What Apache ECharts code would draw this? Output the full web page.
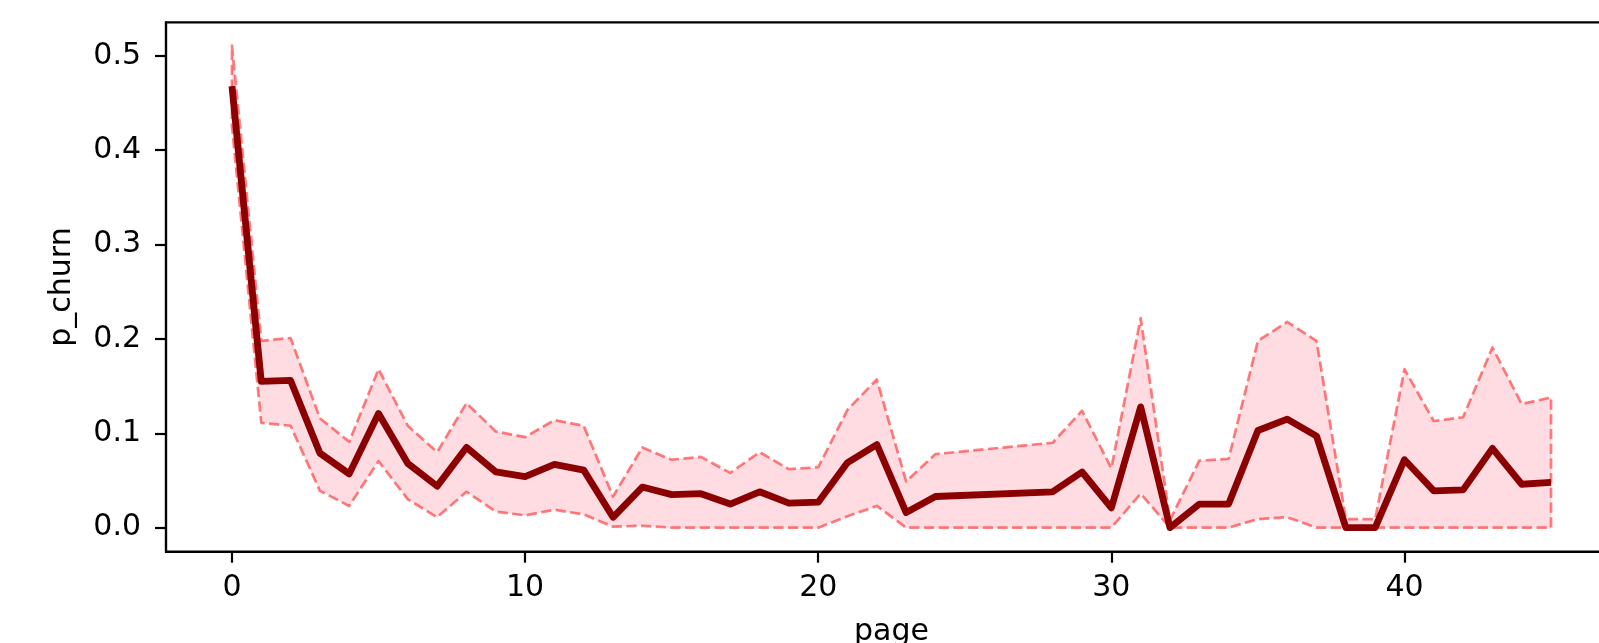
<!DOCTYPE html>
<html>
<head>
<meta charset="utf-8">
<script src="https://cdn.jsdelivr.net/npm/echarts@6/dist/echarts.min.js"></script>
<style>html,body{margin:0;padding:0;background:#fff;}#chart{width:1599px;height:643px;}</style>
</head>
<body>
<div id="chart"></div>
<script>
// pages observed (25-27 absent)
const pages = [0,1,2,3,4,5,6,7,8,9,10,11,12,13,14,15,16,17,18,19,20,21,22,23,24,28,29,30,31,32,33,34,35,36,37,38,39,40,41,42,43,44,45];
const pChurn = [0.468,0.155,0.156,0.079,0.057,0.121,0.068,0.044,0.085,0.059,0.054,0.067,0.061,0.011,0.043,0.035,0.036,0.025,0.038,0.026,0.027,0.069,0.088,0.016,0.033,0.038,0.059,0.021,0.128,0.0,0.025,0.025,0.103,0.115,0.097,0.0,0.0,0.072,0.039,0.040,0.084,0.046,0.048];
const upper = [0.511,0.198,0.201,0.116,0.091,0.168,0.108,0.080,0.132,0.102,0.096,0.114,0.108,0.033,0.085,0.072,0.075,0.058,0.080,0.062,0.064,0.125,0.157,0.049,0.078,0.090,0.124,0.063,0.222,0.008,0.071,0.073,0.198,0.218,0.198,0.009,0.009,0.168,0.113,0.117,0.191,0.131,0.138];
const lower = [0.426,0.111,0.108,0.039,0.023,0.0705,0.030,0.011,0.038,0.017,0.013,0.019,0.014,0.001,0.002,0.0,0.0,0.0,0.0,0.0,0.0,0.012,0.023,0.0,0.0,0.0,0.0,0.0,0.036,0.0,0.0,0.0,0.009,0.011,0.0,0.0,0.0,0.0,0.0,0.0,0.0,0.0,0.0];
const xTicks = [0,10,20,30,40];
const yTicks = [0.0,0.1,0.2,0.3,0.4,0.5];

const FONT = 'DejaVu Sans';
const FS = 30;
const chart = echarts.init(document.getElementById('chart'), null, {renderer:'canvas'});
const axisCommon = {
  axisLine:{show:true,onZero:false,lineStyle:{color:'#000',width:2.2}},
  axisTick:{show:true,length:11,lineStyle:{color:'#000',width:2.2}},
  splitLine:{show:false},
  nameTextStyle:{fontFamily:FONT,fontSize:FS,color:'#000'}
};
chart.setOption({
  animation:false,
  backgroundColor:'#fff',
  grid:{left:166,top:22.4,width:1451,height:529.3,show:true,borderColor:'#000',borderWidth:2.2,
    backgroundColor:'transparent',containLabel:false,outerBoundsMode:'none'},
  xAxis:Object.assign({}, axisCommon, {
    type:'value', min:-2.25, max:47.25,
    name:'page', nameLocation:'middle', nameGap:66,
    axisTick:Object.assign({}, axisCommon.axisTick, {customValues:xTicks}),
    axisLabel:{customValues:xTicks, fontFamily:FONT, fontSize:FS, color:'#000', margin:22}
  }),
  yAxis:Object.assign({}, axisCommon, {
    type:'value', min:-0.0255, max:0.5355,
    name:'p_churn', nameLocation:'middle', nameGap:89,
    axisTick:Object.assign({}, axisCommon.axisTick, {customValues:yTicks}),
    axisLabel:{customValues:yTicks, fontFamily:FONT, fontSize:FS, color:'#000', margin:25,
      formatter:function(v){return v.toFixed(1);}}
  }),
  series:[
    {
      type:'custom',
      data: pages.map((p,i)=>[p, upper[i], lower[i]]),
      encode:{x:0,y:[1,2]},
      z:2,
      renderItem:function(params, api){
        if (params.dataIndex !== 0) return null;
        const pts = [];
        for (let i=0;i<pages.length;i++) pts.push(api.coord([pages[i], upper[i]]));
        for (let i=pages.length-1;i>=0;i--) pts.push(api.coord([pages[i], lower[i]]));
        return {type:'polygon', shape:{points:pts},
          style:{fill:'rgba(255,192,203,0.55)', stroke:'rgba(255,0,0,0.5)', lineWidth:2.7, lineDash:[10.3,4.4], lineJoin:'round'}};
      }
    },
    {
      type:'line',
      data: pages.map((p,i)=>[p, pChurn[i]]),
      symbol:'none',
      z:3,
      lineStyle:{color:'#8b0000', width:6.8, join:'round', cap:'butt'}
    }
  ]
});
</script>
</body>
</html>
